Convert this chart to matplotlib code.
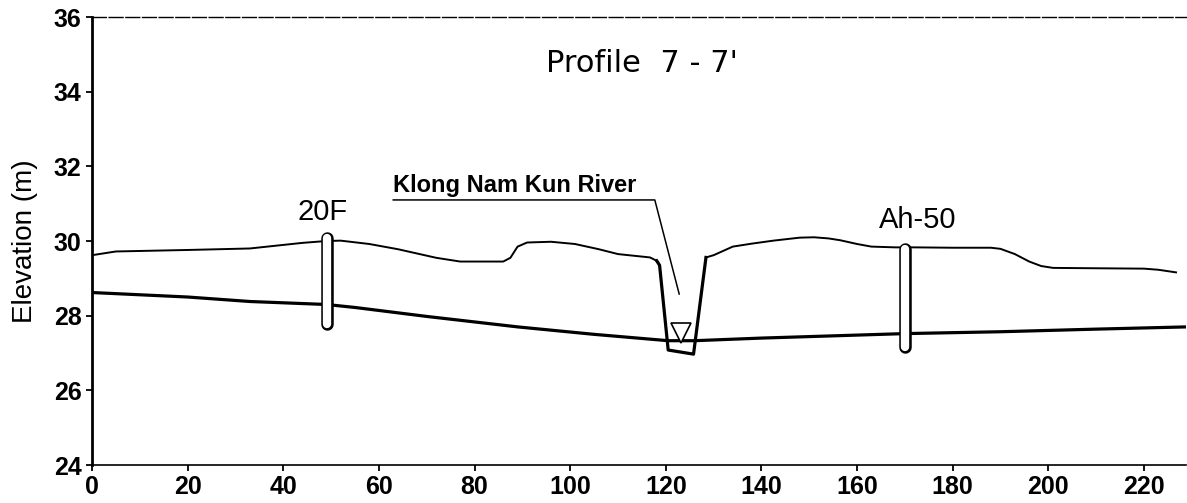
import matplotlib
matplotlib.use("Agg")
import matplotlib.pyplot as plt

# ground surface along the profile (distance, elevation)
ground_x = [0, 5, 20, 33, 44, 49, 52, 58, 64, 72, 77, 86, 87.5, 89, 91, 96, 101, 106, 110, 116.7, 118.1]
ground_y = [29.62, 29.72, 29.76, 29.80, 29.95, 30.00, 30.01, 29.92, 29.78, 29.55, 29.45, 29.45, 29.55, 29.85,
            29.96, 29.98, 29.92, 29.78, 29.65, 29.56, 29.47]
ground2_x = [128.4, 130, 134, 138, 142.5, 148, 151, 154, 156.5, 160, 163, 168, 172, 180, 188, 190, 193, 196,
             198.5, 201, 210, 220, 223, 226.7]
ground2_y = [29.56, 29.62, 29.85, 29.93, 30.01, 30.09, 30.10, 30.07, 30.02, 29.92, 29.85, 29.83, 29.83, 29.82,
             29.82, 29.79, 29.65, 29.45, 29.33, 29.28, 29.27, 29.26, 29.23, 29.16]

# river channel
channel_x = [118.1, 118.7, 120.5, 125.8, 128.4]
channel_y = [29.47, 29.35, 27.08, 26.97, 29.56]

# water table
water_x = [0, 20, 33, 49, 55, 70, 89, 105, 120.5, 126, 140, 160, 170, 190, 210, 229]
water_y = [28.62, 28.50, 28.38, 28.30, 28.22, 27.98, 27.70, 27.50, 27.33, 27.33, 27.40, 27.48, 27.52,
           27.57, 27.64, 27.70]

# wells
well_names = ["20F", "Ah-50"]
well_x = [49.2, 170.1]
well_top = [30.25, 29.95]
well_bottom = [27.62, 27.01]
well_label_x = [48.3, 172.6]
well_label_y = [30.56, 30.34]

river_name = "Klong Nam Kun River"
river_level_x = 123.2
river_level_y = 27.54

x_ticks = list(range(0, 221, 20))
y_ticks = list(range(24, 37, 2))

fig = plt.figure(figsize=(11.87, 5.03), dpi=100)
ax = fig.add_axes([0.0775, 0.0755, 0.9217, 0.8907])

# surface and water table
ax.plot(ground_x, ground_y, color='black', lw=1.4, zorder=2)
ax.plot(ground2_x, ground2_y, color='black', lw=1.4, zorder=2)
ax.plot(channel_x, channel_y, color='black', lw=2.3, zorder=2)
ax.plot(water_x, water_y, color='black', lw=2.3, zorder=2)

# water level symbol
ax.plot([river_level_x], [river_level_y], marker='v', markersize=15, markerfacecolor='white',
        markeredgecolor='black', markeredgewidth=1.2, zorder=3)

# wells (rounded tubes)
r = 0.16
for name, x, top, bot, lx, ly in zip(well_names, well_x, well_top, well_bottom, well_label_x, well_label_y):
    ax.plot([x, x], [bot + r, top - r], color='black', lw=9.0, solid_capstyle='round', zorder=4)
    ax.plot([x, x], [bot + r, top - r], color='white', lw=6.0, solid_capstyle='round', zorder=5)
    ax.text(lx, ly, name, ha='center', va='baseline', fontsize=21, family='Liberation Sans', zorder=6)

# river label with leader
ax.text(63.0, 31.32, river_name, ha='left', va='baseline', fontsize=17, fontweight='bold',
        family='Liberation Sans')
ax.plot([63.0, 117.7, 122.8], [31.10, 31.10, 28.58], color='black', lw=1.1, zorder=2)

ax.text(115, 34.52, "Profile  7 - 7'", ha='center', va='baseline', fontsize=22, family='DejaVu Sans')

ax.set_xlim(0, 228.8)
ax.set_ylim(24, 36)
ax.set_xticks(x_ticks)
ax.set_yticks(y_ticks)
for lab in ax.get_xticklabels() + ax.get_yticklabels():
    lab.set_fontweight('bold')
    lab.set_family('Liberation Sans')
    lab.set_fontsize(18)
ax.tick_params(direction='out', length=4, width=1.3, pad=3.5)

ax.set_ylabel('Elevation (m)', fontsize=20, family='Liberation Sans')
ax.yaxis.set_label_coords(-0.049, 0.5)

ax.spines['left'].set_linewidth(2.0)
ax.spines['bottom'].set_linewidth(1.2)
ax.spines['top'].set_linewidth(1.0)
ax.spines['top'].set_linestyle((0, (10, 2)))
ax.spines['right'].set_visible(False)

plt.savefig('out.png', dpi=100)
